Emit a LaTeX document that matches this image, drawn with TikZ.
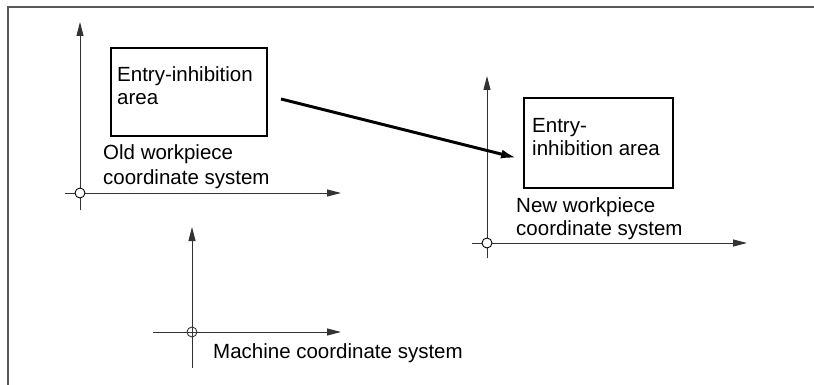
\documentclass[tikz,border=0pt]{standalone}
\usepackage{fontspec}
\setmainfont{Liberation Sans}
\usetikzlibrary{arrows.meta,calc}
\begin{document}
\begin{tikzpicture}[x=1pt,y=-1pt,
  lbl/.style={font=\fontsize{20.5}{23.5}\selectfont, inner sep=0pt, anchor=base west, text=black},
  axis/.style={line width=1pt, draw=black!80, -{Stealth[length=14pt,width=7pt,inset=0pt]}},
  tail/.style={line width=1pt, draw=black!80},
  areabox/.style={draw=black, line width=2pt, inner sep=0pt, anchor=north west},
  origin/.style={circle, draw=black, line width=0.9pt, fill=white, minimum size=10pt, inner sep=0pt},
  originx/.style={circle, draw=black!80, line width=0.9pt, minimum size=10pt, inner sep=0pt},
  move/.style={line width=3pt, -{Latex[length=16pt,width=9pt]}}
]
\useasboundingbox (0,0) rectangle (814,385);
% frame
\draw[line width=2pt, draw=black!65] (7.5,385) -- (7.5,7.5) -- (814,7.5);

% old workpiece coordinate system
\coordinate (oO) at (80,193);
\coordinate (oyb) at (80,210);
\coordinate (oyt) at (80,22);
\coordinate (oxl) at (65,193);
\coordinate (oxr) at (341,193);
\draw[tail] (oyb) -- (oO);
\draw[axis] (oO) -- (oyt);
\draw[tail] (oxl) -- (oO);
\draw[axis] (oO) -- (oxr);
\node[origin] (oorig) at (oO) {};

\node[areabox, minimum width=156pt, minimum height=88pt] (oldbox) at (110,47) {};
\node[lbl] (ot1) at (117,82) {Entry-inhibition};
\node[lbl] (ot2) at (117,105) {area};
\node[lbl] (ol1) at (103,160) {Old workpiece};
\node[lbl] (ol2) at (103,184) {coordinate system};

% new workpiece coordinate system
\coordinate (nO) at (487,243);
\coordinate (nyb) at (487,258);
\coordinate (nyt) at (487,76);
\coordinate (nxl) at (472,243);
\coordinate (nxr) at (747,243);
\draw[tail] (nyb) -- (nO);
\draw[axis] (nO) -- (nyt);
\draw[tail] (nxl) -- (nO);
\draw[axis] (nO) -- (nxr);
\node[origin] (norig) at (nO) {};

\node[areabox, minimum width=149pt, minimum height=90pt] (newbox) at (523,97) {};
\node[lbl] (nt1) at (532,133) {Entry-};
\node[lbl] (nt2) at (532,156) {inhibition area};
\node[lbl] (nl1) at (516,212) {New workpiece};
\node[lbl] (nl2) at (516,235) {coordinate system};

% machine coordinate system
\coordinate (mO) at (192,332);
\coordinate (myb) at (192,368);
\coordinate (myt) at (192,227);
\coordinate (mxl) at (153,332);
\coordinate (mxr) at (341,332);
\draw[tail] (myb) -- (mO);
\draw[axis] (mO) -- (myt);
\draw[tail] (mxl) -- (mO);
\draw[axis] (mO) -- (mxr);
\node[originx] (morig) at (mO) {};
\node[lbl] (ml) at (213,358) {Machine coordinate system};

% movement arrow
\draw[move] ([shift={(13,7)}]oldbox.east) -- ([shift={(-6,15)}]newbox.west);
\end{tikzpicture}
\end{document}
